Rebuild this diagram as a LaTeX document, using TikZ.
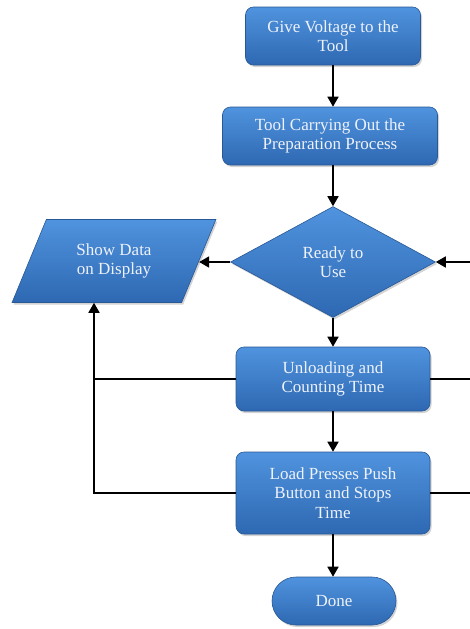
\documentclass[tikz,border=0pt]{standalone}
\usepackage{fontspec}
\setmainfont{Liberation Serif}
\usetikzlibrary{shapes.geometric,shadows,arrows.meta}
\definecolor{boxtop}{RGB}{80,147,222}
\definecolor{boxbot}{RGB}{46,104,178}
\definecolor{boxline}{RGB}{40,88,150}
\definecolor{txt}{RGB}{238,242,250}
\tikzset{
  base/.style={top color=boxtop,bottom color=boxbot,draw=boxline,line width=0.6pt,
    text=txt,align=center,inner sep=0pt,
    font=\fontsize{17}{19.5}\selectfont,
    drop shadow={shadow xshift=1.5pt,shadow yshift=-2pt,opacity=0.35}},
  procbox/.style={base,rectangle,rounded corners=8pt},
  decbox/.style={base,diamond},
  iobox/.style={base,trapezium,trapezium stretches=true,trapezium left angle=64,trapezium right angle=116},
  arr/.style={line width=1.7pt,-{Triangle[length=10pt,width=11pt]}},
  ln/.style={line width=1.5pt}
}
\begin{document}
\begin{tikzpicture}[x=1pt,y=-1pt]
\useasboundingbox (0,0) rectangle (470,629);
\node[procbox,minimum width=175,minimum height=58] (give) at (333,36) {Give Voltage to the\\Tool};
\node[procbox,minimum width=215,minimum height=58] (prep) at (330,136) {Tool Carrying Out the\\Preparation Process};
\node[decbox,minimum width=205,minimum height=111] (ready) at (333,262) {Ready to\\Use};
\node[iobox,minimum width=204,minimum height=83] (disp) at (114,261) {\raisebox{11pt}{\begin{tabular}{@{}c@{}}Show Data\\on Display\end{tabular}}};
\node[procbox,minimum width=194,minimum height=64] (unload) at (333,379) {Unloading and\\Counting Time};
\node[procbox,minimum width=194,minimum height=82] (load) at (333,493) {Load Presses Push\\Button and Stops\\Time};
\node[procbox,rounded corners=24pt,minimum width=124,minimum height=48] (done) at (334,601) {Done};
\coordinate (rin) at (470,262);
\coordinate (rout1) at (470,379);
\coordinate (rout2) at (470,493);
\coordinate (c1) at (94,379);
\coordinate (c2) at (94,493);
\draw[arr] (give.south) -- (give.south |- prep.north);
\draw[arr] (ready.north |- prep.south) -- (ready.north);
\draw[arr] (ready.west) -- (ready.west -| disp.east);
\draw[arr] (rin) -- (ready.east);
\draw[arr] (ready.south) -- (unload.north);
\draw[arr] (unload.south) -- (load.north);
\draw[arr] (load.south) -- (load.south |- done.north);
\draw[ln] (unload.east) -- (rout1);
\draw[ln] (load.east) -- (rout2);
\draw[ln] (unload.west) -- (c1);
\draw[arr] (load.west) -- (c2) -- (c2 |- disp.south);
\end{tikzpicture}
\end{document}
